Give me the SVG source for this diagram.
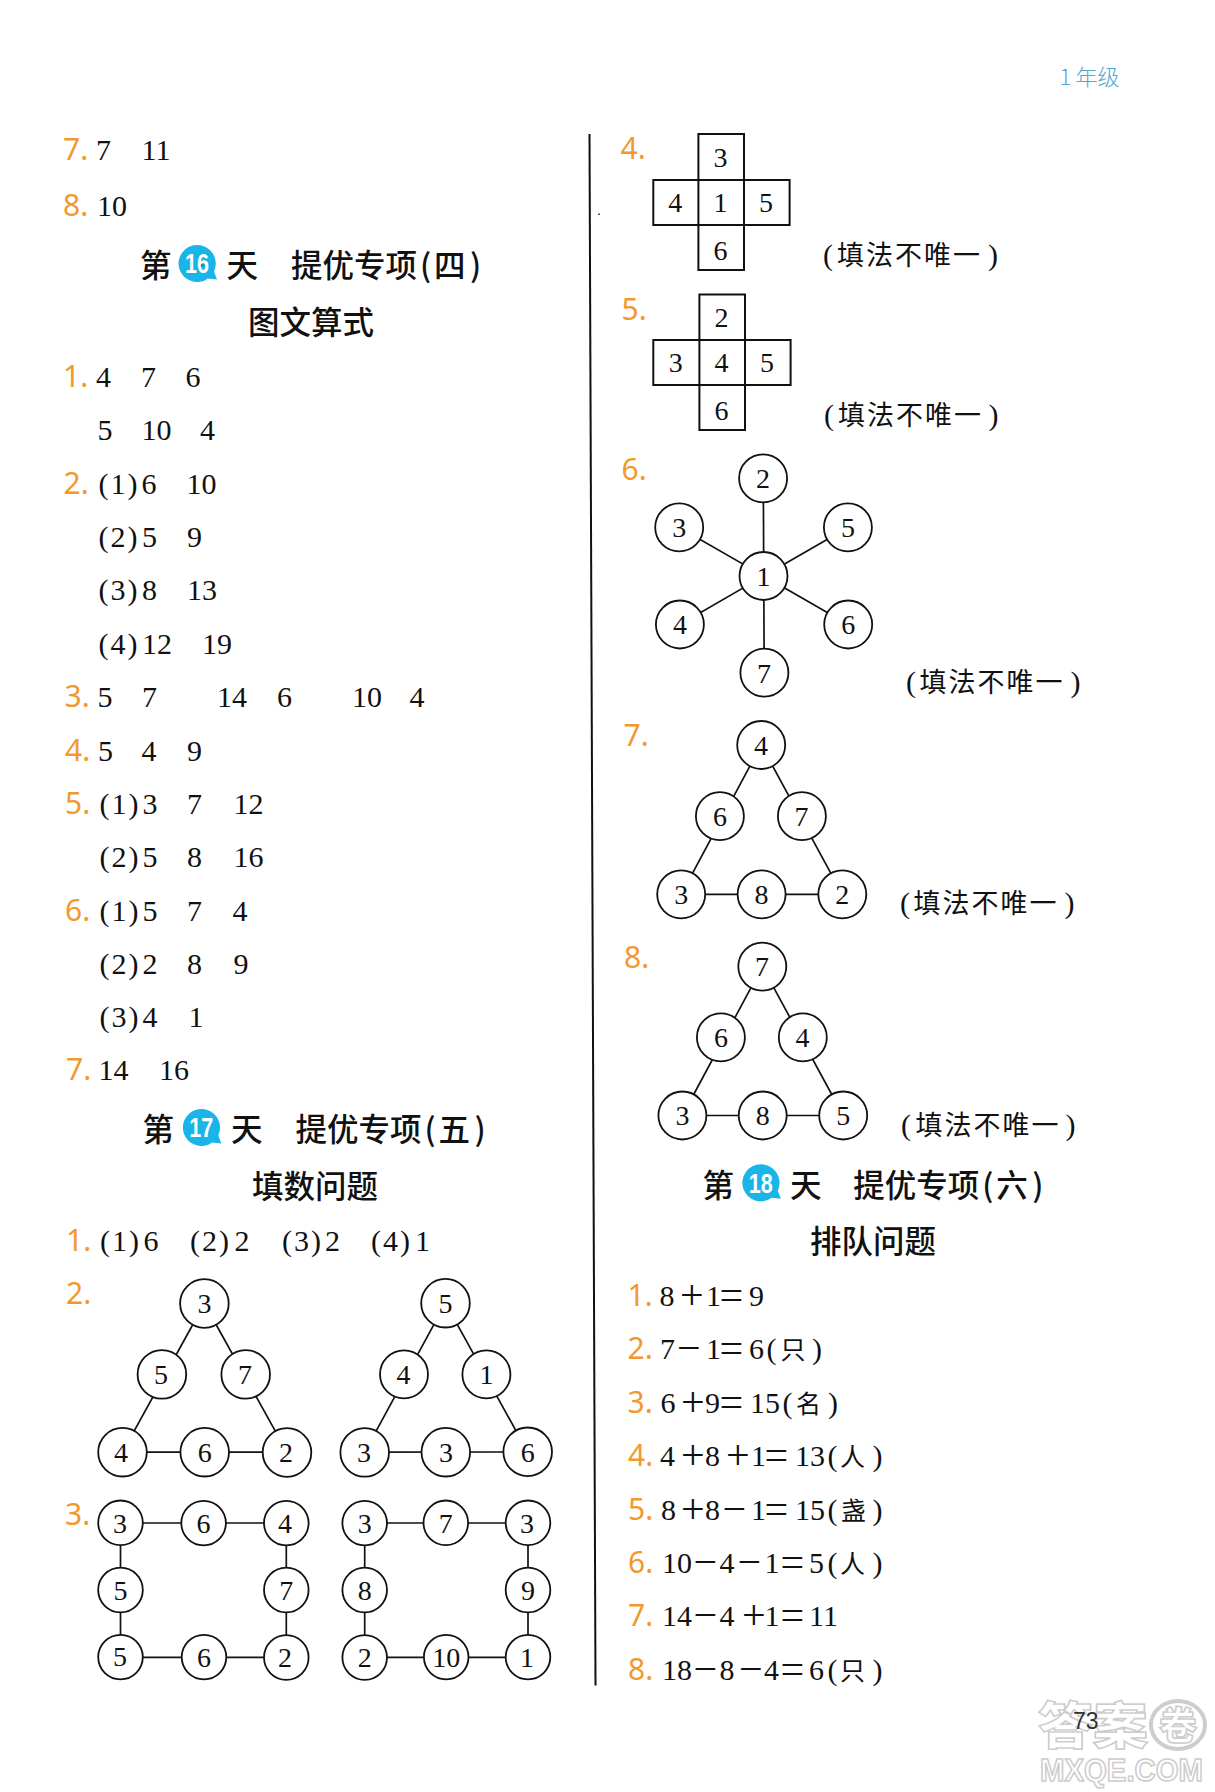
<svg xmlns="http://www.w3.org/2000/svg" width="1215" height="1792" viewBox="0 0 1215 1792">
<style>
text{font-family:"Liberation Serif","Noto Sans CJK SC",serif;fill:#111}
.n{font-size:30px}
.p{font-size:30px;letter-spacing:2px}
.o{font-size:42px}
.l{font-family:"Noto Sans","Liberation Sans",sans-serif;font-size:30px;fill:#f2982f;font-weight:400}
.h{font-family:"Noto Sans CJK SC","Liberation Sans",sans-serif;font-size:31.5px;font-weight:500}
.c{font-size:28px;text-anchor:middle}
.k{font-family:"Noto Sans CJK SC",sans-serif;font-size:27px;font-weight:400;letter-spacing:2px}
.kp{font-family:"Liberation Serif",serif;font-size:30px}
.u{font-family:"Noto Sans CJK SC",sans-serif;font-size:25px;font-weight:400}
.b{fill:#19b4e8}
.bd{fill:#1a8fd0}
.bt{font-family:"Liberation Sans",sans-serif;font-weight:700;font-size:27px;fill:#fff;text-anchor:middle}
.nd{fill:#fff;stroke:#111;stroke-width:1.8}
.cn line{stroke:#111;stroke-width:1.7}
.cell{fill:none;stroke:#111;stroke-width:2}
.w{font-family:"Noto Sans CJK SC","Liberation Sans",sans-serif;font-weight:900;fill:#fff;stroke:#cdcdcd;stroke-width:1.6}
.wl{font-family:"Liberation Sans",sans-serif;font-weight:700;fill:#fff;stroke:#cdcdcd;stroke-width:1.6}
</style>

<g id="watermark">
<text class="w" x="1038" y="1744" font-size="50" textLength="110" lengthAdjust="spacingAndGlyphs">答案</text>
<ellipse cx="1178" cy="1725" rx="27" ry="24" fill="#fff" stroke="#cdcdcd" stroke-width="4"/>
<text class="w" x="1159" y="1739" font-size="38">卷</text>
<text class="wl" x="1040" y="1781" font-size="31" textLength="163" lengthAdjust="spacingAndGlyphs">MXQE.COM</text>
</g>

<text id="grade" y="85" style="fill:#4fa8cf;font-family:'Noto Sans CJK SC',sans-serif;font-size:22px;font-weight:300"><tspan x="1059.5" style="fill:#4fa8cf">1</tspan><tspan x="1075.5" style="fill:#4fa8cf">年级</tspan></text>
<line id="divider" x1="589.5" y1="134" x2="595.5" y2="1685.5" stroke="#111" stroke-width="2"/>
<rect id="speck" x="598" y="213.5" width="2" height="1.5" fill="#555"/>

<g id="left-answers">
<text y="160"><tspan class="l" x="63">7.</tspan><tspan class="n" x="96">7</tspan><tspan class="n" x="141.5">11</tspan></text>
<text y="216"><tspan class="l" x="63">8.</tspan><tspan class="n" x="97">10</tspan></text>
<text y="386.5"><tspan class="l" x="63">1.</tspan><tspan class="n" x="96">4</tspan><tspan class="n" x="141">7</tspan><tspan class="n" x="185.5">6</tspan></text>
<text y="440"><tspan class="n" x="97.5">5</tspan><tspan class="n" x="141.5">10</tspan><tspan class="n" x="200">4</tspan></text>
<text y="493.5"><tspan class="l" x="63.5">2.</tspan><tspan class="p" x="98.5">(1)</tspan><tspan class="n" x="141.5">6</tspan><tspan class="n" x="186.5">10</tspan></text>
<text y="547"><tspan class="p" x="98.5">(2)</tspan><tspan class="n" x="142">5</tspan><tspan class="n" x="187">9</tspan></text>
<text y="600"><tspan class="p" x="98.5">(3)</tspan><tspan class="n" x="142">8</tspan><tspan class="n" x="187">13</tspan></text>
<text y="653.5"><tspan class="p" x="98.5">(4)</tspan><tspan class="n" x="142">12</tspan><tspan class="n" x="202">19</tspan></text>
<text y="707"><tspan class="l" x="64.5">3.</tspan><tspan class="n" x="97.5">5</tspan><tspan class="n" x="142">7</tspan><tspan class="n" x="217">14</tspan><tspan class="n" x="277">6</tspan><tspan class="n" x="352">10</tspan><tspan class="n" x="409.5">4</tspan></text>
<text y="760.5"><tspan class="l" x="65">4.</tspan><tspan class="n" x="98">5</tspan><tspan class="n" x="141.5">4</tspan><tspan class="n" x="187">9</tspan></text>
<text y="813.5"><tspan class="l" x="65">5.</tspan><tspan class="p" x="99.5">(1)</tspan><tspan class="n" x="142.5">3</tspan><tspan class="n" x="187">7</tspan><tspan class="n" x="233.5">12</tspan></text>
<text y="867"><tspan class="p" x="99.5">(2)</tspan><tspan class="n" x="142.5">5</tspan><tspan class="n" x="187">8</tspan><tspan class="n" x="233.5">16</tspan></text>
<text y="920.5"><tspan class="l" x="65">6.</tspan><tspan class="p" x="99.5">(1)</tspan><tspan class="n" x="142.5">5</tspan><tspan class="n" x="187">7</tspan><tspan class="n" x="232.5">4</tspan></text>
<text y="974"><tspan class="p" x="99.5">(2)</tspan><tspan class="n" x="142.5">2</tspan><tspan class="n" x="187">8</tspan><tspan class="n" x="233.5">9</tspan></text>
<text y="1027"><tspan class="p" x="99.5">(3)</tspan><tspan class="n" x="142.5">4</tspan><tspan class="n" x="188.5">1</tspan></text>
<text y="1080"><tspan class="l" x="66">7.</tspan><tspan class="n" x="98.5">14</tspan><tspan class="n" x="159">16</tspan></text>
<text y="1251"><tspan class="l" x="66">1.</tspan><tspan class="p" x="100">(1)</tspan><tspan class="n" x="143.5">6</tspan><tspan class="p" x="190">(2)</tspan><tspan class="n" x="234.5">2</tspan><tspan class="p" x="282">(3)</tspan><tspan class="n" x="325">2</tspan><tspan class="p" x="371">(4)</tspan><tspan class="n" x="415">1</tspan></text>
<text class="l" x="66" y="1303.5">2.</text>
<text class="l" x="65" y="1524.5">3.</text>
</g>

<g id="day16">
<text class="h" y="277"><tspan x="140">第</tspan><tspan x="226.5">天</tspan><tspan x="291">提优专项</tspan><tspan x="420">(</tspan><tspan x="434">四</tspan><tspan x="470">)</tspan></text>
<path class="b" d="M197 245a18.5 18.5 0 1 0 11 33.4l9 1l-3-8a18.5 18.5 0 0 0-17-26.4z"/>
<text class="bt" x="197" y="273" textLength="24" lengthAdjust="spacingAndGlyphs">16</text>
<circle class="bd" cx="202.5" cy="265.5" r="1.8"/>
<text class="h" x="248" y="334">图文算式</text>
</g>
<g id="day17">
<text class="h" y="1141"><tspan x="142.5">第</tspan><tspan x="231">天</tspan><tspan x="295.5">提优专项</tspan><tspan x="424.5">(</tspan><tspan x="438.5">五</tspan><tspan x="474.5">)</tspan></text>
<path class="b" d="M201.3 1109a18.5 18.5 0 1 0 11 33.4l9 1l-3-8a18.5 18.5 0 0 0-17-26.4z"/>
<text class="bt" x="201.3" y="1137" textLength="24" lengthAdjust="spacingAndGlyphs">17</text>
<text class="h" x="252" y="1198">填数问题</text>
</g>
<g id="day18">
<text class="h" y="1197"><tspan x="702.5">第</tspan><tspan x="790">天</tspan><tspan x="853.3">提优专项</tspan><tspan x="982.3">(</tspan><tspan x="996.3">六</tspan><tspan x="1032.3">)</tspan></text>
<path class="b" d="M760.8 1164.3a18.5 18.5 0 1 0 11 33.4l9 1l-3-8a18.5 18.5 0 0 0-17-26.4z"/>
<text class="bt" x="760.8" y="1192.5" textLength="24" lengthAdjust="spacingAndGlyphs">18</text>
<text class="h" x="810" y="1253">排队问题</text>
</g>

<g id="right-labels">
<text class="l" x="620.5" y="159">4.</text>
<text class="l" x="621.5" y="319.5">5.</text>
<text class="l" x="621.5" y="479.5">6.</text>
<text class="l" x="623.5" y="746">7.</text>
<text class="l" x="624" y="968">8.</text>
</g>

<g id="cross-4">
<path class="cell" d="M698.4 134H744V180H789.6V225H744V270H698.4V225H653.3V180H698.4ZM698.4 180H744V225H698.4Z"/>
<text class="c" x="720.4" y="166.5">3</text><text class="c" x="675.3" y="211.5">4</text><text class="c" x="720.4" y="211.5">1</text><text class="c" x="766" y="211.5">5</text><text class="c" x="720.4" y="259.5">6</text>
</g>
<g id="cross-5">
<path class="cell" d="M699.4 294.5H745V340H790.6V385H745V430H699.4V385H653.3V340H699.4ZM699.4 340H745V385H699.4Z"/>
<text class="c" x="721.4" y="326.5">2</text><text class="c" x="675.8" y="372">3</text><text class="c" x="721.4" y="372">4</text><text class="c" x="767" y="372">5</text><text class="c" x="721.4" y="419.5">6</text>
</g>
<g id="notes">
<text y="265"><tspan class="kp" x="823">(</tspan><tspan class="k" x="837">填法不唯一</tspan><tspan class="kp" x="988">)</tspan></text>
<text y="425"><tspan class="kp" x="824">(</tspan><tspan class="k" x="838">填法不唯一</tspan><tspan class="kp" x="988.5">)</tspan></text>
<text y="692"><tspan class="kp" x="906">(</tspan><tspan class="k" x="919.5">填法不唯一</tspan><tspan class="kp" x="1070.5">)</tspan></text>
<text y="913"><tspan class="kp" x="900">(</tspan><tspan class="k" x="913.5">填法不唯一</tspan><tspan class="kp" x="1064.5">)</tspan></text>
<text y="1134.5"><tspan class="kp" x="901">(</tspan><tspan class="k" x="915.5">填法不唯一</tspan><tspan class="kp" x="1065.5">)</tspan></text>
</g>

<g id="connectors" class="cn">
<line x1="204.4" y1="1303.5" x2="122.5" y2="1452.2"/><line x1="204.4" y1="1303.5" x2="287" y2="1452.2"/><line x1="122.5" y1="1452.2" x2="287" y2="1452.2"/>
<line x1="445.5" y1="1303.2" x2="364.7" y2="1452.2"/><line x1="445.5" y1="1303.2" x2="527.7" y2="1452"/><line x1="364.7" y1="1452.2" x2="527.7" y2="1452"/>
<line x1="120.5" y1="1523" x2="286.3" y2="1523"/><line x1="120.5" y1="1657.3" x2="286.3" y2="1657.3"/><line x1="120.5" y1="1523" x2="120.5" y2="1657.3"/><line x1="286.3" y1="1523" x2="286.3" y2="1657.3"/>
<line x1="364.7" y1="1523" x2="528" y2="1523"/><line x1="364.7" y1="1657.3" x2="528" y2="1657.3"/><line x1="364.7" y1="1523" x2="364.7" y2="1657.3"/><line x1="528" y1="1523" x2="528" y2="1657.3"/>
<line x1="763.3" y1="478.4" x2="764.2" y2="672.7"/><line x1="679.2" y1="527.4" x2="848.2" y2="624.5"/><line x1="847.9" y1="527.4" x2="679.9" y2="624.5"/>
<line x1="761.2" y1="745" x2="681.2" y2="894.3"/><line x1="761.2" y1="745" x2="842.3" y2="894.3"/><line x1="681.2" y1="894.3" x2="842.3" y2="894.3"/>
<line x1="762.3" y1="966.6" x2="682.4" y2="1115.5"/><line x1="762.3" y1="966.6" x2="843.2" y2="1115.5"/><line x1="682.4" y1="1115.5" x2="843.2" y2="1115.5"/>
</g>

<g id="tri-a">
<g id="a1"><circle class="nd" cx="204.4" cy="1303.5" r="24.3"/><text class="c" x="204.4" y="1313">3</text></g>
<g id="a2"><circle class="nd" cx="161.9" cy="1374.4" r="24.3"/><text class="c" x="161" y="1384">5</text></g>
<g id="a3"><circle class="nd" cx="245.7" cy="1374.4" r="24.3"/><text class="c" x="245" y="1384">7</text></g>
<g id="a4"><circle class="nd" cx="122.5" cy="1452.2" r="24.3"/><text class="c" x="121" y="1462">4</text></g>
<g id="a5"><circle class="nd" cx="204.7" cy="1452.2" r="24.3"/><text class="c" x="204.7" y="1462">6</text></g>
<g id="a6"><circle class="nd" cx="287" cy="1452.5" r="24.3"/><text class="c" x="286" y="1462">2</text></g>
</g>
<g id="tri-b">
<g id="b1"><circle class="nd" cx="445.5" cy="1303.2" r="24.3"/><text class="c" x="445.5" y="1313">5</text></g>
<g id="b2"><circle class="nd" cx="404" cy="1374.4" r="24"/><text class="c" x="403.5" y="1384">4</text></g>
<g id="b3"><circle class="nd" cx="486.4" cy="1374.4" r="24"/><text class="c" x="486.4" y="1384">1</text></g>
<g id="b4"><circle class="nd" cx="364.7" cy="1452.4" r="24.3"/><text class="c" x="364" y="1462">3</text></g>
<g id="b5"><circle class="nd" cx="445.8" cy="1452.2" r="24.3"/><text class="c" x="446" y="1462">3</text></g>
<g id="b6"><circle class="nd" cx="527.7" cy="1451.8" r="24.3"/><text class="c" x="527.7" y="1461.5">6</text></g>
</g>
<g id="sq-a">
<g id="c1"><circle class="nd" cx="120.5" cy="1522.8" r="22.3"/><text class="c" x="120" y="1532.5">3</text></g>
<g id="c2"><circle class="nd" cx="203.6" cy="1523.1" r="22.3"/><text class="c" x="203.6" y="1533">6</text></g>
<g id="c3"><circle class="nd" cx="286.3" cy="1523.1" r="22.3"/><text class="c" x="285" y="1533">4</text></g>
<g id="c4"><circle class="nd" cx="120.5" cy="1590" r="22.3"/><text class="c" x="120.5" y="1599.5">5</text></g>
<g id="c5"><circle class="nd" cx="286.3" cy="1590" r="22.3"/><text class="c" x="286.3" y="1599.5">7</text></g>
<g id="c6"><circle class="nd" cx="120.5" cy="1657.1" r="22.3"/><text class="c" x="120" y="1666">5</text></g>
<g id="c7"><circle class="nd" cx="204" cy="1657.1" r="22.3"/><text class="c" x="204" y="1667">6</text></g>
<g id="c8"><circle class="nd" cx="286.3" cy="1657.5" r="22.3"/><text class="c" x="285" y="1667">2</text></g>
</g>
<g id="sq-b">
<g id="d1"><circle class="nd" cx="364.7" cy="1523.1" r="22.3"/><text class="c" x="364.7" y="1533">3</text></g>
<g id="d2"><circle class="nd" cx="445.8" cy="1522.8" r="22.3"/><text class="c" x="445.8" y="1532.5">7</text></g>
<g id="d3"><circle class="nd" cx="528" cy="1522.8" r="22.3"/><text class="c" x="527" y="1532.5">3</text></g>
<g id="d4"><circle class="nd" cx="364.7" cy="1590" r="22.3"/><text class="c" x="364.7" y="1599.5">8</text></g>
<g id="d5"><circle class="nd" cx="528" cy="1590" r="22.3"/><text class="c" x="528" y="1599.5">9</text></g>
<g id="d6"><circle class="nd" cx="364.7" cy="1657.5" r="22.3"/><text class="c" x="364.7" y="1667">2</text></g>
<g id="d7"><circle class="nd" cx="446.2" cy="1657.1" r="22.3"/><text class="c" x="446.2" y="1667">10</text></g>
<g id="d8"><circle class="nd" cx="528" cy="1657.1" r="22.3"/><text class="c" x="527" y="1667">1</text></g>
</g>
<g id="star">
<g id="e1"><circle class="nd" cx="763.1" cy="478.4" r="24"/><text class="c" x="763.1" y="488">2</text></g>
<g id="e2"><circle class="nd" cx="679.2" cy="527.4" r="24"/><text class="c" x="679.2" y="537">3</text></g>
<g id="e3"><circle class="nd" cx="847.9" cy="527.4" r="24"/><text class="c" x="847.9" y="537">5</text></g>
<g id="e4"><circle class="nd" cx="763.5" cy="576" r="24"/><text class="c" x="763.5" y="585.5">1</text></g>
<g id="e5"><circle class="nd" cx="679.9" cy="624.5" r="24"/><text class="c" x="679.9" y="634">4</text></g>
<g id="e6"><circle class="nd" cx="848.2" cy="624.5" r="24"/><text class="c" x="848.2" y="634">6</text></g>
<g id="e7"><circle class="nd" cx="764.4" cy="672.7" r="24"/><text class="c" x="764" y="682.5">7</text></g>
</g>
<g id="tri-7">
<g id="f1"><circle class="nd" cx="761.2" cy="745" r="24"/><text class="c" x="761" y="754.5">4</text></g>
<g id="f2"><circle class="nd" cx="719.9" cy="816.2" r="24"/><text class="c" x="719.9" y="826">6</text></g>
<g id="f3"><circle class="nd" cx="801.9" cy="816.2" r="24"/><text class="c" x="801.4" y="826">7</text></g>
<g id="f4"><circle class="nd" cx="681.2" cy="894.3" r="24"/><text class="c" x="681.2" y="904">3</text></g>
<g id="f5"><circle class="nd" cx="761.6" cy="894.3" r="24"/><text class="c" x="761.6" y="904">8</text></g>
<g id="f6"><circle class="nd" cx="842.3" cy="894.3" r="24"/><text class="c" x="842.3" y="904">2</text></g>
</g>
<g id="tri-8">
<g id="g1"><circle class="nd" cx="762.3" cy="966.6" r="24"/><text class="c" x="762" y="976">7</text></g>
<g id="g2"><circle class="nd" cx="720.9" cy="1037.4" r="24"/><text class="c" x="720.9" y="1047">6</text></g>
<g id="g3"><circle class="nd" cx="802.8" cy="1037.4" r="24"/><text class="c" x="802.4" y="1047">4</text></g>
<g id="g4"><circle class="nd" cx="682.4" cy="1115.5" r="24"/><text class="c" x="682.4" y="1125">3</text></g>
<g id="g5"><circle class="nd" cx="762.7" cy="1115.5" r="24"/><text class="c" x="762.7" y="1125">8</text></g>
<g id="g6"><circle class="nd" cx="843.2" cy="1115.5" r="24"/><text class="c" x="843.2" y="1125">5</text></g>
</g>

<g id="day18-answers">
<text y="1306"><tspan class="l" x="627.5">1.</tspan><tspan class="n" x="659.5">8</tspan><tspan class="o" x="680" y="1309">+</tspan><tspan class="n" x="706" y="1306">1</tspan><tspan class="o" x="719.5" y="1309">=</tspan><tspan class="n" x="749" y="1306">9</tspan></text>
<text y="1359"><tspan class="l" x="627.5">2.</tspan><tspan class="n" x="660">7</tspan><tspan class="o" x="677" y="1362">−</tspan><tspan class="n" x="706" y="1359">1</tspan><tspan class="o" x="719.5" y="1362">=</tspan><tspan class="n" x="749" y="1359">6</tspan><tspan class="n" x="766.5">(</tspan><tspan class="u" x="780.5">只</tspan><tspan class="n" x="812">)</tspan></text>
<text y="1412.5"><tspan class="l" x="627.5">3.</tspan><tspan class="n" x="660.5">6</tspan><tspan class="o" x="681" y="1415.5">+</tspan><tspan class="n" x="705" y="1412.5">9</tspan><tspan class="o" x="719.5" y="1415.5">=</tspan><tspan class="n" x="750" y="1412.5">15</tspan><tspan class="n" x="782.5">(</tspan><tspan class="u" x="796">名</tspan><tspan class="n" x="828">)</tspan></text>
<text y="1466"><tspan class="l" x="628">4.</tspan><tspan class="n" x="660">4</tspan><tspan class="o" x="681" y="1469">+</tspan><tspan class="n" x="705" y="1466">8</tspan><tspan class="o" x="726" y="1469">+</tspan><tspan class="n" x="751" y="1466">1</tspan><tspan class="o" x="764.5" y="1469">=</tspan><tspan class="n" x="795" y="1466">13</tspan><tspan class="n" x="827.5">(</tspan><tspan class="u" x="840">人</tspan><tspan class="n" x="872.5">)</tspan></text>
<text y="1519.5"><tspan class="l" x="628">5.</tspan><tspan class="n" x="661">8</tspan><tspan class="o" x="681" y="1522.5">+</tspan><tspan class="n" x="705" y="1519.5">8</tspan><tspan class="o" x="722.5" y="1522.5">−</tspan><tspan class="n" x="751" y="1519.5">1</tspan><tspan class="o" x="764.5" y="1522.5">=</tspan><tspan class="n" x="795" y="1519.5">15</tspan><tspan class="n" x="827.5">(</tspan><tspan class="u" x="841">盏</tspan><tspan class="n" x="872.5">)</tspan></text>
<text y="1572.5"><tspan class="l" x="628">6.</tspan><tspan class="n" x="662">10</tspan><tspan class="o" x="693.5" y="1575.5">−</tspan><tspan class="n" x="719.5" y="1572.5">4</tspan><tspan class="o" x="737.5" y="1575.5">−</tspan><tspan class="n" x="764.5" y="1572.5">1</tspan><tspan class="o" x="780.5" y="1575.5">=</tspan><tspan class="n" x="809" y="1572.5">5</tspan><tspan class="n" x="827.5">(</tspan><tspan class="u" x="840">人</tspan><tspan class="n" x="872.5">)</tspan></text>
<text y="1625.5"><tspan class="l" x="628">7.</tspan><tspan class="n" x="662">14</tspan><tspan class="o" x="693.5" y="1628.5">−</tspan><tspan class="n" x="719.5" y="1625.5">4</tspan><tspan class="o" x="742" y="1628.5">+</tspan><tspan class="n" x="764.5" y="1625.5">1</tspan><tspan class="o" x="780.5" y="1628.5">=</tspan><tspan class="n" x="809" y="1625.5">11</tspan></text>
<text y="1679.5"><tspan class="l" x="628">8.</tspan><tspan class="n" x="662">18</tspan><tspan class="o" x="693.5" y="1682.5">−</tspan><tspan class="n" x="719.5" y="1679.5">8</tspan><tspan class="o" x="739" y="1682.5">−</tspan><tspan class="n" x="764" y="1679.5">4</tspan><tspan class="o" x="780.5" y="1682.5">=</tspan><tspan class="n" x="809" y="1679.5">6</tspan><tspan class="n" x="827.5">(</tspan><tspan class="u" x="840">只</tspan><tspan class="n" x="872.5">)</tspan></text>
</g>
<text id="page" x="1073" y="1729" style="font-family:'Liberation Sans',sans-serif;font-size:23px;fill:#333">73</text>
</svg>
